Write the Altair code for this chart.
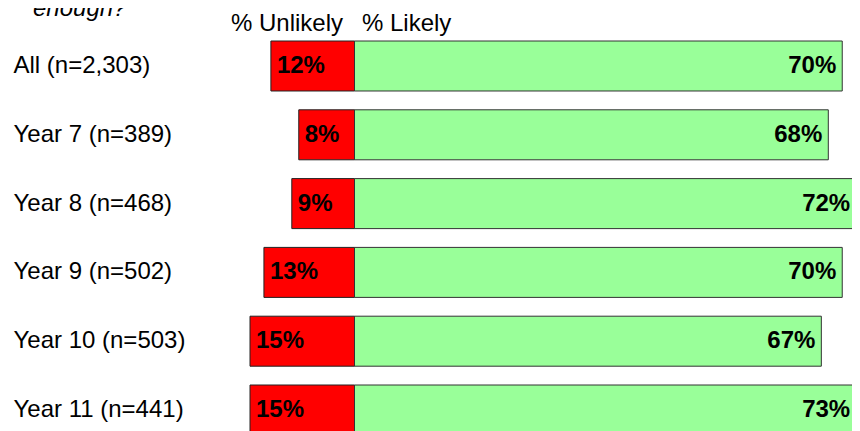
import altair as alt
import pandas as pd

# ---- data ----
categories = ["All (n=2,303)", "Year 7 (n=389)", "Year 8 (n=468)",
              "Year 9 (n=502)", "Year 10 (n=503)", "Year 11 (n=441)"]
unlikely = [12, 8, 9, 13, 15, 15]
likely = [70, 68, 72, 70, 67, 73]
header_unlikely = "% Unlikely"
header_likely = "% Likely"
title_text = "enough?"

df = pd.DataFrame({
    "group": categories,
    "unlikely_neg": [-v for v in unlikely],
    "likely": likely,
    "unlikely_label": [f"{v}%" for v in unlikely],
    "likely_label": [f"{v}%" for v in likely],
})

FONT = "Liberation Sans"
FS = 24

x_scale = alt.Scale(domain=[-15, 71.4], nice=False)
y_scale = alt.Scale(domain=categories, range=[6, 400], paddingInner=0.2733, paddingOuter=0)

x_axis = alt.Axis(
    orient="top", values=[-1.72, 1.0],
    labelExpr=f"datum.value < 0 ? '{header_unlikely}' : '{header_likely}'",
    labelAlign={"condition": {"test": "datum.value < 0", "value": "right"}, "value": "left"},
    labelBaseline="alphabetic", labelPadding=4.5, labelFont=FONT, labelFontSize=FS,
    labelColor="black", ticks=False, domain=False, grid=False, title=None,
    labelFlush=False, labelOverlap=False,
)
y_axis = alt.Axis(
    orient="left", labelAlign="left", labelBaseline="middle", labelPadding=237,
    labelFont=FONT, labelFontSize=FS, labelColor="black", labelLimit=400,
    ticks=False, domain=False, grid=False, title=None,
)

y_enc = alt.Y("group:N", scale=y_scale, axis=y_axis, sort=categories)

base = alt.Chart(df)

red = base.mark_bar(color="#FF0000", stroke="#222222", strokeWidth=1).encode(
    x=alt.X("unlikely_neg:Q", scale=x_scale, axis=x_axis, stack=None),
    x2=alt.datum(0),
    y=y_enc,
)
green = base.mark_bar(color="#99FF99", stroke="#333333", strokeWidth=1).encode(
    x=alt.X("likely:Q", scale=x_scale, axis=x_axis, stack=None),
    x2=alt.datum(0),
    y=y_enc,
)
red_text = base.mark_text(align="left", baseline="middle", dx=6, font=FONT,
                          fontSize=FS, fontWeight="bold", color="black").encode(
    x=alt.X("unlikely_neg:Q", scale=x_scale, axis=x_axis),
    y=y_enc,
    text="unlikely_label:N",
)
# keep the value label inside the visible page when the bar runs off the edge
green_text = base.transform_calculate(
    label_x="min(datum.likely, 72)"
).mark_text(align="right", baseline="middle", dx=-6, font=FONT,
            fontSize=FS, fontWeight="bold", color="black").encode(
    x=alt.X("label_x:Q", scale=x_scale, axis=x_axis),
    y=y_enc,
    text="likely_label:N",
)

chart = alt.layer(red, green, red_text, green_text).properties(
    width=602,
    height=396,
    title=alt.TitleParams(title_text, anchor="start", frame="group", fontStyle="italic",
                          fontWeight="normal", font=FONT, fontSize=FS, color="black",
                          dx=-217, dy=28, offset=0, baseline="alphabetic"),
    autosize=alt.AutoSizeParams(type="none"),
    padding={"left": 242, "top": 27, "right": 0, "bottom": 0},
    background="white",
).configure_view(stroke=None)

chart.save("out.html", embed_options={"renderer": "svg", "actions": False})
